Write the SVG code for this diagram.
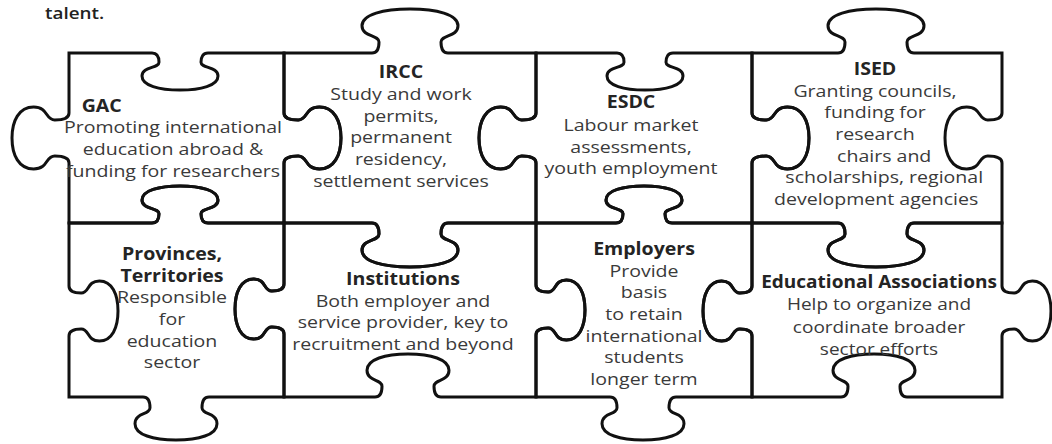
<svg xmlns="http://www.w3.org/2000/svg" width="1052" height="444" viewBox="0 0 1052 444">
  <style>
    .edge { fill: none; stroke: #111; stroke-width: 3; stroke-linejoin: round; stroke-linecap: square; }
    .t { font-family: "Open Sans", "Noto Sans", "Liberation Sans", sans-serif; font-size: 17px; fill: #3a3a3a; text-anchor: middle; }
    .b { font-weight: 700; fill: #242424; }
    .lead { font-family: "Open Sans", "Noto Sans", "Liberation Sans", sans-serif; font-size: 16px; font-weight: 600; fill: #222; }
  </style>

  <rect width="1052" height="444" fill="#fff"/>

  <!-- tail of the paragraph above the puzzle -->
  <g transform="translate(45 0) scale(1.18 1)">
    <text class="lead" x="0" y="19">talent.</text>
  </g>

  <!-- Row 1 -->
  <g id="gac">
    <path class="edge" d="M69,53 H152 c5,0 7,3.7 7,9.25 c0,6.29 -17,4.07 -17,13.69 c0,9.62 17.1,14.06 38,14.06 c20.9,0 38,-4.44 38,-14.06 c0,-9.62 -17,-7.4 -17,-13.69 c0,-5.55 2,-9.25 7,-9.25 H284
      M284,53 V113 c0,5 5.7,7 14.25,7 c9.69,0 6.27,-13 21.09,-13 c14.82,0 21.66,13.95 21.66,31 c0,17.05 -6.84,31 -21.66,31 c-14.82,0 -11.4,-13 -21.09,-13 c-8.55,0 -14.25,2 -14.25,7 V223
      M69,223 H152 c5,0 7,-3.7 7,-9.25 c0,-6.29 -17,-4.07 -17,-13.69 c0,-9.62 17.1,-14.06 38,-14.06 c20.9,0 38,4.44 38,14.06 c0,9.62 -17,7.4 -17,13.69 c0,5.55 2,9.25 7,9.25 H284
      M69,53 V113 c0,5 -5.7,7 -14.25,7 c-9.69,0 -6.27,-13 -21.09,-13 c-14.82,0 -21.66,13.95 -21.66,31 c0,17.05 6.84,31 21.66,31 c14.82,0 11.4,-13 21.09,-13 c8.55,0 14.25,2 14.25,7 V223"/>
    <g transform="translate(173 0) scale(1.15 1)">
      <text class="t b" x="-62" y="112">GAC</text>
      <text class="t" x="0" y="133.5">Promoting international</text>
      <text class="t" x="0" y="155.5">education abroad &amp;</text>
      <text class="t" x="0" y="177.5">funding for researchers</text>
    </g>
  </g>

  <g id="ircc">
    <path class="edge" d="M284,53 H372 c5,0 7,-4.4 7,-11 c0,-7.48 -17,-4.84 -17,-16.28 c0,-11.44 21.6,-16.72 48,-16.72 c26.4,0 48,5.28 48,16.72 c0,11.44 -17,8.8 -17,16.28 c0,6.6 2,11 7,11 H536
      M536,53 V113 c0,5 -5.7,7 -14.25,7 c-9.69,0 -6.27,-13 -21.09,-13 c-14.82,0 -21.66,13.95 -21.66,31 c0,17.05 6.84,31 21.66,31 c14.82,0 11.4,-13 21.09,-13 c8.55,0 14.25,2 14.25,7 V223
      M284,223 H372 c5,0 7,4.4 7,11 c0,7.48 -17,4.84 -17,16.28 c0,11.44 21.6,16.72 48,16.72 c26.4,0 48,-5.28 48,-16.72 c0,-11.44 -17,-8.8 -17,-16.28 c0,-6.6 2,-11 7,-11 H536
      M284,53 V113 c0,5 5.7,7 14.25,7 c9.69,0 6.27,-13 21.09,-13 c14.82,0 21.66,13.95 21.66,31 c0,17.05 -6.84,31 -21.66,31 c-14.82,0 -11.4,-13 -21.09,-13 c-8.55,0 -14.25,2 -14.25,7 V223"/>
    <g transform="translate(401 0) scale(1.15 1)">
      <text class="t b" x="0" y="78.5">IRCC</text>
      <text class="t" x="0" y="100">Study and work</text>
      <text class="t" x="0" y="121.7">permits,</text>
      <text class="t" x="0" y="143.3">permanent</text>
      <text class="t" x="0" y="165">residency,</text>
      <text class="t" x="0" y="186.7">settlement services</text>
    </g>
  </g>

  <g id="esdc">
    <path class="edge" d="M536,53 H617 c5,0 7,3.7 7,9.25 c0,6.29 -17,4.07 -17,13.69 c0,9.62 17.1,14.06 38,14.06 c20.9,0 38,-4.44 38,-14.06 c0,-9.62 -17,-7.4 -17,-13.69 c0,-5.55 2,-9.25 7,-9.25 H752
      M752,53 V113 c0,5 5.7,7 14.25,7 c9.69,0 6.27,-13 21.09,-13 c14.82,0 21.66,13.95 21.66,31 c0,17.05 -6.84,31 -21.66,31 c-14.82,0 -11.4,-13 -21.09,-13 c-8.55,0 -14.25,2 -14.25,7 V223
      M536,223 H616 c5,0 7,-3.7 7,-9.25 c0,-6.29 -17,-4.07 -17,-13.69 c0,-9.62 17.1,-14.06 38,-14.06 c20.9,0 38,4.44 38,14.06 c0,9.62 -17,7.4 -17,13.69 c0,5.55 2,9.25 7,9.25 H752
      M536,53 V113 c0,5 -5.7,7 -14.25,7 c-9.69,0 -6.27,-13 -21.09,-13 c-14.82,0 -21.66,13.95 -21.66,31 c0,17.05 6.84,31 21.66,31 c14.82,0 11.4,-13 21.09,-13 c8.55,0 14.25,2 14.25,7 V223"/>
    <g transform="translate(631 0) scale(1.15 1)">
      <text class="t b" x="0" y="108.5">ESDC</text>
      <text class="t" x="0" y="131.5">Labour market</text>
      <text class="t" x="0" y="153.3">assessments,</text>
      <text class="t" x="0" y="174.5">youth employment</text>
    </g>
  </g>

  <g id="ised">
    <path class="edge" d="M752,53 H838 c5,0 7,-4.4 7,-11 c0,-7.48 -17,-4.84 -17,-16.28 c0,-11.44 21.6,-16.72 48,-16.72 c26.4,0 48,5.28 48,16.72 c0,11.44 -17,8.8 -17,16.28 c0,6.6 2,11 7,11 H1002
      M1002,53 V113 c0,5 -5.7,7 -14.25,7 c-9.69,0 -6.27,-13 -21.09,-13 c-14.82,0 -21.66,13.95 -21.66,31 c0,17.05 6.84,31 21.66,31 c14.82,0 11.4,-13 21.09,-13 c8.55,0 14.25,2 14.25,7 V223
      M752,223 H838 c5,0 7,4.4 7,11 c0,7.48 -17,4.84 -17,16.28 c0,11.44 21.6,16.72 48,16.72 c26.4,0 48,-5.28 48,-16.72 c0,-11.44 -17,-8.8 -17,-16.28 c0,-6.6 2,-11 7,-11 H1002
      M752,53 V113 c0,5 5.7,7 14.25,7 c9.69,0 6.27,-13 21.09,-13 c14.82,0 21.66,13.95 21.66,31 c0,17.05 -6.84,31 -21.66,31 c-14.82,0 -11.4,-13 -21.09,-13 c-8.55,0 -14.25,2 -14.25,7 V223"/>
    <g transform="translate(875 0) scale(1.15 1)">
      <text class="t b" x="0" y="75">ISED</text>
      <text class="t" x="0" y="96.7">Granting councils,</text>
      <text class="t" x="0" y="118.3">funding for</text>
      <text class="t" x="0" y="140">research</text>
      <text class="t" x="8" y="161.7">chairs and</text>
      <text class="t" x="8" y="183.3">scholarships, regional</text>
      <text class="t" x="1" y="205">development agencies</text>
    </g>
  </g>

  <!-- Row 2 -->
  <g id="provinces">
    <path class="edge" d="M69,223 H152 c5,0 7,-3.7 7,-9.25 c0,-6.29 -17,-4.07 -17,-13.69 c0,-9.62 17.1,-14.06 38,-14.06 c20.9,0 38,4.44 38,14.06 c0,9.62 -17,7.4 -17,13.69 c0,5.55 2,9.25 7,9.25 H284
      M284,223 V284 c0,5 -4.9,7 -12.25,7 c-8.33,0 -5.39,-12 -18.13,-12 c-12.74,0 -18.62,13.5 -18.62,30 c0,16.5 5.88,30 18.62,30 c12.74,0 9.8,-12 18.13,-12 c7.35,0 12.25,2 12.25,7 V397
      M69,397 H143 c5,0 7,4.3 7,10.75 c0,7.31 -15,4.73 -15,15.91 c0,11.18 18.45,16.34 41,16.34 c22.55,0 41,-5.16 41,-16.34 c0,-11.18 -15,-8.6 -15,-15.91 c0,-6.45 2,-10.75 7,-10.75 H284
      M69,223 V286 c0,5 4.9,7 12.25,7 c8.33,0 5.39,-12 18.13,-12 c12.74,0 18.62,13.5 18.62,30 c0,16.5 -5.88,30 -18.62,30 c-12.74,0 -9.8,-12 -18.13,-12 c-7.35,0 -12.25,2 -12.25,7 V397"/>
    <g transform="translate(172 0) scale(1.15 1)">
      <text class="t b" x="0" y="260">Provinces,</text>
      <text class="t b" x="0" y="281.7">Territories</text>
      <text class="t" x="0" y="303.3">Responsible</text>
      <text class="t" x="0" y="325">for</text>
      <text class="t" x="0" y="346.7">education</text>
      <text class="t" x="0" y="368.3">sector</text>
    </g>
  </g>

  <g id="institutions">
    <path class="edge" d="M284,223 H372 c5,0 7,4.4 7,11 c0,7.48 -17,4.84 -17,16.28 c0,11.44 21.6,16.72 48,16.72 c26.4,0 48,-5.28 48,-16.72 c0,-11.44 -17,-8.8 -17,-16.28 c0,-6.6 2,-11 7,-11 H536
      M536,223 V285 c0,5 4.9,7 12.25,7 c8.33,0 5.39,-12 18.13,-12 c12.74,0 18.62,13.5 18.62,30 c0,16.5 -5.88,30 -18.62,30 c-12.74,0 -9.8,-12 -18.13,-12 c-7.35,0 -12.25,2 -12.25,7 V397
      M284,397 H375 c5,0 7,-4.3 7,-10.75 c0,-7.31 -15,-4.73 -15,-15.91 c0,-11.18 18.45,-16.34 41,-16.34 c22.55,0 41,5.16 41,16.34 c0,11.18 -15,8.6 -15,15.91 c0,6.45 2,10.75 7,10.75 H536
      M284,223 V284 c0,5 -4.9,7 -12.25,7 c-8.33,0 -5.39,-12 -18.13,-12 c-12.74,0 -18.62,13.5 -18.62,30 c0,16.5 5.88,30 18.62,30 c12.74,0 9.8,-12 18.13,-12 c7.35,0 12.25,2 12.25,7 V397"/>
    <g transform="translate(403 0) scale(1.15 1)">
      <text class="t b" x="0" y="285">Institutions</text>
      <text class="t" x="0" y="306.7">Both employer and</text>
      <text class="t" x="0" y="328.3">service provider, key to</text>
      <text class="t" x="0" y="350">recruitment and beyond</text>
    </g>
  </g>

  <g id="employers">
    <path class="edge" d="M536,223 H616 c5,0 7,-3.7 7,-9.25 c0,-6.29 -17,-4.07 -17,-13.69 c0,-9.62 17.1,-14.06 38,-14.06 c20.9,0 38,4.44 38,14.06 c0,9.62 -17,7.4 -17,13.69 c0,5.55 2,9.25 7,9.25 H752
      M752,223 V286 c0,5 -4.9,7 -12.25,7 c-8.33,0 -5.39,-12 -18.13,-12 c-12.74,0 -18.62,13.5 -18.62,30 c0,16.5 5.88,30 18.62,30 c12.74,0 9.8,-12 18.13,-12 c7.35,0 12.25,2 12.25,7 V397
      M536,397 H610 c5,0 7,4.3 7,10.75 c0,7.31 -15,4.73 -15,15.91 c0,11.18 18.45,16.34 41,16.34 c22.55,0 41,-5.16 41,-16.34 c0,-11.18 -15,-8.6 -15,-15.91 c0,-6.45 2,-10.75 7,-10.75 H752
      M536,223 V285 c0,5 4.9,7 12.25,7 c8.33,0 5.39,-12 18.13,-12 c12.74,0 18.62,13.5 18.62,30 c0,16.5 -5.88,30 -18.62,30 c-12.74,0 -9.8,-12 -18.13,-12 c-7.35,0 -12.25,2 -12.25,7 V397"/>
    <g transform="translate(644 0) scale(1.15 1)">
      <text class="t b" x="0" y="255">Employers</text>
      <text class="t" x="0" y="276.7">Provide</text>
      <text class="t" x="0" y="298.3">basis</text>
      <text class="t" x="0" y="320">to retain</text>
      <text class="t" x="0" y="341.7">international</text>
      <text class="t" x="0" y="363.3">students</text>
      <text class="t" x="0" y="385">longer term</text>
    </g>
  </g>

  <g id="educational-associations">
    <path class="edge" d="M752,223 H838 c5,0 7,4.4 7,11 c0,7.48 -17,4.84 -17,16.28 c0,11.44 21.6,16.72 48,16.72 c26.4,0 48,-5.28 48,-16.72 c0,-11.44 -17,-8.8 -17,-16.28 c0,-6.6 2,-11 7,-11 H1002
      M1002,223 V286 c0,5 4.9,7 12.25,7 c8.33,0 5.39,-12 18.13,-12 c12.74,0 18.62,13.5 18.62,30 c0,16.5 -5.88,30 -18.62,30 c-12.74,0 -9.8,-12 -18.13,-12 c-7.35,0 -12.25,2 -12.25,7 V397
      M752,397 H841 c5,0 7,-4.3 7,-10.75 c0,-7.31 -15,-4.73 -15,-15.91 c0,-11.18 18.45,-16.34 41,-16.34 c22.55,0 41,5.16 41,16.34 c0,11.18 -15,8.6 -15,15.91 c0,6.45 2,10.75 7,10.75 H1002
      M752,223 V286 c0,5 -4.9,7 -12.25,7 c-8.33,0 -5.39,-12 -18.13,-12 c-12.74,0 -18.62,13.5 -18.62,30 c0,16.5 5.88,30 18.62,30 c12.74,0 9.8,-12 18.13,-12 c7.35,0 12.25,2 12.25,7 V397"/>
    <g transform="translate(879 0) scale(1.12 1)">
      <text class="t b" x="0" y="288.3">Educational Associations</text>
      <text class="t" x="0" y="310">Help to organize and</text>
      <text class="t" x="0" y="333.3">coordinate broader</text>
      <text class="t" x="0" y="355">sector efforts</text>
    </g>
  </g>
</svg>
